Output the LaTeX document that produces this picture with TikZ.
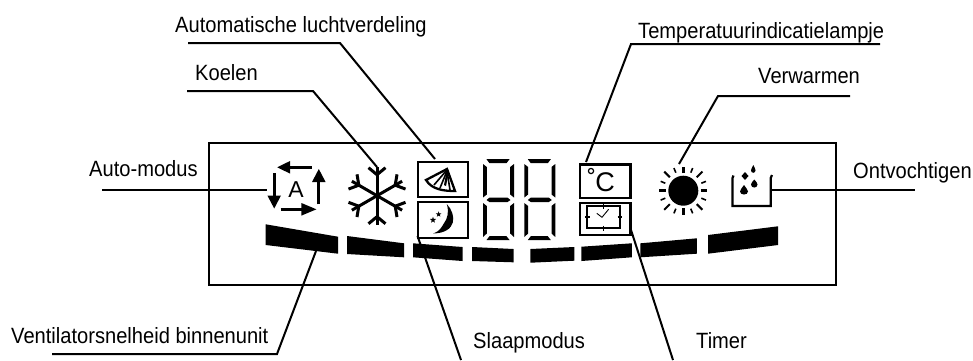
\documentclass[tikz,border=0pt]{standalone}
\usepackage{fontspec}
\setmainfont{Liberation Sans}
\newfontfamily\lblfont[FakeStretch=0.91]{Liberation Sans}
\usetikzlibrary{shapes.geometric}
\tikzset{
  lbl/.style={anchor=base west,inner sep=0pt,font=\lblfont\fontsize{22.1}{26}\selectfont,text=black},
  leader/.style={draw=black,line width=2pt,line join=miter},
  panelbox/.style={draw=black,line width=2.1pt},
  iconbox/.style={draw=black,line width=2.2pt},
  flake/.style={draw=black,line width=3pt},
  ray/.style={draw=black,line width=2pt},
  arrowshaft/.style={draw=black,line width=3.3pt}
}
\newcommand{\sevenseg}[1]{%
  \begin{scope}[shift={(#1,0)}]
    \fill (3.5,159.2) -- (26.5,159.2) -- (23.5,163.2) -- (6.5,163.2) -- cycle;
    \fill (0,164) -- (3.8,167) -- (3.8,194.5) -- (0,197.5) -- cycle;
    \fill (31,164) -- (27.2,167) -- (27.2,194.5) -- (31,197.5) -- cycle;
    \fill (3.5,200) -- (6.5,197.6) -- (24.5,197.6) -- (27.5,200) -- (24.5,202) -- (6.5,202) -- cycle;
    \fill (0,203) -- (3.8,206) -- (3.8,233.5) -- (0,237) -- cycle;
    \fill (31,203) -- (27.2,206) -- (27.2,233.5) -- (31,237) -- cycle;
    \fill (6.5,236.2) -- (23.5,236.2) -- (26.5,240) -- (3.5,240) -- cycle;
  \end{scope}}
\begin{document}
\begin{tikzpicture}[x=1pt,y=-1pt]
\useasboundingbox (0,0) rectangle (973,360);
\fill[white] (0,0) rectangle (973,360);

% panel
\node[panelbox,anchor=north west,minimum width=627pt,minimum height=141.7pt,inner sep=0pt] (panel) at (207.5,142) {};

% labels
\node[lbl] (lauto) at (89,176.7) {Auto-modus};
\node[lbl] (lkoel) at (195,80.6) {Koelen};
\node[lbl] (lluch) at (175,32) {Automatische luchtverdeling};
\node[lbl] (ltemp) at (638,38) {Temperatuurindicatielampje};
\node[lbl] (lverw) at (758,83) {Verwarmen};
\node[lbl] (lontv) at (853,178) {Ontvochtigen};
\node[lbl] (lvent) at (11,343) {Ventilatorsnelheid binnenunit};
\node[lbl] (lslaap) at (473,348) {Slaapmodus};
\node[lbl] (ltimer) at (696,348) {Timer};

% fan speed bars
\fill (265.7,224.3) -- (338,236.7) -- (338,253.7) -- (265.7,245) -- cycle;
\fill (347,236) -- (404,243.3) -- (404,257.3) -- (347,254) -- cycle;
\fill (413,243.3) -- (462.5,247) -- (462.5,261) -- (413,257.3) -- cycle;
\fill (472,247) -- (513.6,249) -- (513.6,262.3) -- (472,261) -- cycle;
\fill (530.4,249) -- (574.3,247) -- (574.3,260.7) -- (530.4,262.7) -- cycle;
\fill (581.4,246.7) -- (631.8,243.3) -- (631.8,257.3) -- (581.4,261) -- cycle;
\fill (640.4,243.3) -- (696.8,238.3) -- (696.8,253.7) -- (640.4,257.3) -- cycle;
\fill (708,235) -- (778,226.3) -- (778,245) -- (708,253.7) -- cycle;

% icon boxes
\node[iconbox,anchor=north west,minimum width=50.5pt,minimum height=35pt,inner sep=0pt] (boxfan) at (416.7,161) {};
\node[iconbox,anchor=north west,minimum width=50.5pt,minimum height=35.7pt,inner sep=0pt] (boxmoon) at (416.7,201) {};
\node[iconbox,anchor=north west,minimum width=50.3pt,minimum height=33.7pt,inner sep=0pt] (boxdeg) at (579,163.3) {};
\node[iconbox,anchor=north west,minimum width=50.3pt,minimum height=32.3pt,inner sep=0pt] (boxtimer) at (579,201.7) {};

% digits
\sevenseg{483}
\sevenseg{524.3}

% auto icon
\draw[arrowshaft] (311.7,167.3) -- (288,167.3);
\fill (277.3,167.3) -- (290,161) -- (290,173.6) -- cycle;
\draw[arrowshaft] (318.8,204.3) -- (318.8,180);
\fill (318.8,169) -- (312,182) -- (325.6,182) -- cycle;
\draw[arrowshaft] (274.2,173.3) -- (274.2,197);
\fill (274.2,208.5) -- (267.4,195.5) -- (281,195.5) -- cycle;
\draw[arrowshaft] (280.7,209.3) -- (304,209.3);
\fill (316.4,209.3) -- (301.4,203) -- (301.4,215.6) -- cycle;
\node[inner sep=0pt,font=\fontsize{23}{24}\selectfont] (aglyph) at (296,190) {A};

% snowflake
\begin{scope}[shift={(377,195.7)}]
  \foreach \a in {90,150,210,270,330,30} {
    \begin{scope}[rotate=\a]
      \draw[flake] (0,0) -- (29,0);
      \draw[flake] (21,0) -- (28,-8.5);
      \draw[flake] (21,0) -- (28,8.5);
    \end{scope}
  }
\end{scope}

% fan icon
\draw[black,line width=2.3pt,line join=miter] (426,180) -- (447,169) -- (455,191) .. controls (445,191) and (432,190) .. cycle;
\fill (447,169) -- (449,171) -- (446,186) -- (444,185) -- cycle;
\draw[black,line width=1.6pt] (446,171) -- (434,185);
\draw[black,line width=1.6pt] (447,171) -- (440,188);
\draw[black,line width=1.6pt] (447,171) -- (450,190);

% moon icon
\fill (446.8,204) .. controls (457,215) and (457,233) .. (433,233.5) .. controls (440,231) and (441,228) .. (443.5,224) .. controls (448,218) and (449,212) .. cycle;
\node[star,star points=5,star point ratio=2.4,fill=black,inner sep=0pt,minimum size=6pt] (star1) at (438.6,214.3) {};
\node[star,star points=5,star point ratio=2.4,fill=black,inner sep=0pt,minimum size=6.5pt] (star2) at (433,220) {};

% degree C
\draw[black,line width=1.2pt] (591,171) circle (2.6pt);
\node[inner sep=0pt,font=\fontsize{27}{28}\selectfont] (cglyph) at (605,182) {C};

% timer icon
\draw[black,line width=1.9pt] (586.8,206) rectangle (620,228.3);
\draw[black,line width=1.5pt] (603.4,204) -- (603.4,209) (603.4,225.5) -- (603.4,230.5) (585,217) -- (589.5,217) (617.5,217) -- (622,217);
\draw[black,line width=0.9pt] (596.8,213.3) -- (602,217.3) -- (608.6,209.3);

% sun
\fill (683.3,190.7) circle (15pt);
\begin{scope}[shift={(683.3,190.7)}]
  \foreach \a in {0,90,180,270} \draw[ray,line width=2.6pt] (\a:17.5) -- (\a:24);
  \foreach \a in {45,135,225,315} \draw[ray] (\a:19) -- (\a:27);
  \foreach \a in {22.5,67.5,112.5,157.5,202.5,247.5,292.5,337.5} \draw[ray,line width=1.6pt] (\a:19.5) -- (\a:24.5);
\end{scope}

% beaker
\draw[black,line width=2.2pt,line join=miter] (733.5,175.5) -- (732.5,178) -- (732.5,206) -- (770.7,206) -- (770.7,178) -- (772,175);
\fill (753.3,165) .. controls (755,168) and (755.5,170) .. (755.5,170.5) .. controls (755.5,173.5) and (751,173.5) .. (751,170.5) .. controls (751,170) and (751.6,168) .. cycle;
\fill (745,172) -- (748.5,176) -- (745,180) -- (741.5,176) -- cycle;
\fill (754.3,179.5) .. controls (756,181.5) and (757.5,183) .. (757.5,184.5) .. controls (757.5,188.5) and (751,188.5) .. (751,184.5) .. controls (751,183) and (752.6,181.5) .. cycle;
\fill (744,185) .. controls (745.5,187.5) and (748,189.5) .. (748,191.5) .. controls (748,195.5) and (740,195.5) .. (740,191.5) .. controls (740,189.5) and (742.5,187.5) .. cycle;

% leader anchors
\coordinate (a1) at (102,190);   \coordinate (a2) at (267,190);
\coordinate (k1) at (187,91);    \coordinate (k2) at (313,91);    \coordinate (k3) at (377,167);
\coordinate (f1) at (188,43);    \coordinate (f2) at (340,43);    \coordinate (f3) at (435,159);
\coordinate (t1) at (880,44);    \coordinate (t2) at (631,44);    \coordinate (t3) at (586,162);
\coordinate (v1) at (850,96);    \coordinate (v2) at (718,96);    \coordinate (v3) at (679,164);
\coordinate (o1) at (771,190);   \coordinate (o2) at (915,190);
\coordinate (n1) at (52,354);    \coordinate (n2) at (277,354);   \coordinate (n3) at (316,251);
\coordinate (s1) at (417.5,236); \coordinate (s2) at (461,360);
\coordinate (m1) at (631,230);   \coordinate (m2) at (673,360);

% leaders
\draw[leader] (a1) -- (a2);
\draw[leader] (k1) -- (k2) -- (k3);
\draw[leader] (f1) -- (f2) -- (f3);
\draw[leader] (t1) -- (t2) -- (t3);
\draw[leader] (v1) -- (v2) -- (v3);
\draw[leader] (o1) -- (o2);
\draw[leader] (n1) -- (n2) -- (n3);
\draw[leader] (s1) -- (s2);
\draw[leader] (m1) -- (m2);
\end{tikzpicture}
\end{document}
